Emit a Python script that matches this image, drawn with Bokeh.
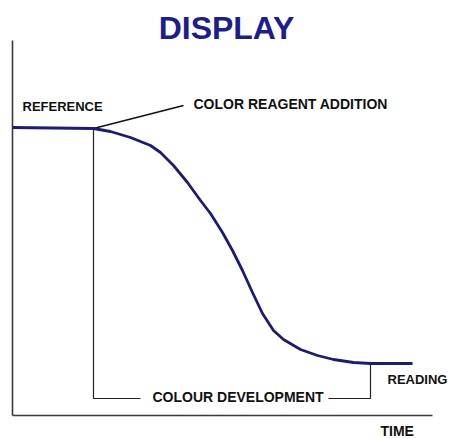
from bokeh.plotting import figure
from bokeh.models import Range1d
from bokeh.core.properties import value
from bokeh.embed import file_html
from bokeh.resources import INLINE

# ---- data (time in arbitrary units, signal in arbitrary units) ----
time = [0, 81, 98, 118, 138, 148, 161, 175, 188, 198, 210, 220, 230,
        240, 250, 261, 271, 288, 305, 321, 341, 358, 400]
signal = [288, 287, 284, 278, 270, 263, 250, 233, 215, 202, 183, 165, 145,
          123, 102, 85, 76, 66, 60, 56, 53, 52, 52]

axis_time = [0, 420]
axis_signal = [0, 375]

reagent_time = 81        # colour reagent addition
reading_time = 358       # reading point
reference_level = 287
reading_level = 52

title_text = "DISPLAY"
labels = ["REFERENCE", "COLOR REAGENT ADDITION", "COLOUR DEVELOPMENT",
          "READING", "TIME"]

FONT = value("Liberation Sans")
INK = "#111111"

p = figure(width=449, height=439, output_backend="svg", toolbar_location=None,
           x_range=Range1d(-12, 437), y_range=Range1d(-24, 415),
           x_axis_type=None, y_axis_type=None, min_border=0,
           outline_line_color=None, background_fill_color="white",
           border_fill_color="white")
p.xgrid.visible = False
p.ygrid.visible = False

# axes
p.line([axis_time[0], axis_time[0]], [axis_signal[0], axis_signal[1]],
       line_color="#3a3a3a", line_width=1.6)
p.line([axis_time[0], axis_time[1]], [axis_signal[0], axis_signal[0]],
       line_color="#3a3a3a", line_width=1.6)

# bracket for colour development
bracket_y = 17
p.line([reagent_time, reagent_time, 128], [reference_level, bracket_y, bracket_y],
       line_color="#222222", line_width=1.2)
p.line([316, reading_time, reading_time], [bracket_y, bracket_y, reading_level],
       line_color="#222222", line_width=1.2)

# leader to COLOR REAGENT ADDITION label
p.line([reagent_time, 171], [reference_level, 310], line_color="#111111", line_width=1.6)

# curve
p.line(time, signal, line_color="#1c1c78", line_width=2.8, line_join="round")

# title
p.text(x=[214], y=[388], text=[title_text], text_font=FONT, text_font_size="32px",
       text_font_style="bold", text_color="#1d1d8c", text_align="center",
       text_baseline="middle")

# labels
lx = [10, 181, 140, 375, 368]
ly = [309, 312, 19, 36, -15]
lsize = ["13px", "14px", "14px", "13px", "14px"]
for t, xx, yy, sz in zip(labels, lx, ly, lsize):
    p.text(x=[xx], y=[yy], text=[t], text_font=FONT, text_font_size=sz,
           text_font_style="bold", text_color=INK, text_align="left",
           text_baseline="middle")

open("out.html", "w").write(file_html(p, INLINE))
